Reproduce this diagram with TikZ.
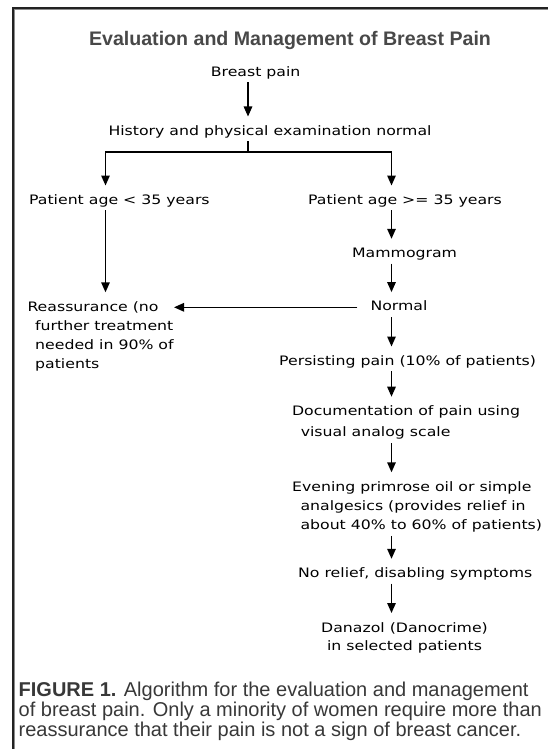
\documentclass[tikz,border=0pt]{standalone}
\usepackage{fontspec}
\setmainfont{Liberation Sans}
\newfontfamily\flowfont[FakeStretch=1.21]{DejaVu Sans}
\usepackage{xcolor}
\usepackage{tikz}
\usetikzlibrary{arrows.meta,calc}
\definecolor{framedark}{HTML}{222222}
\definecolor{framegray}{HTML}{8C8C8C}
\definecolor{titlegray}{HTML}{484848}
\definecolor{captiongray}{HTML}{383838}

\tikzset{
  flowtext/.style={font=\flowfont\fontsize{13pt}{19pt}\selectfont, inner sep=0pt, text height=9.5pt, text depth=2.5pt},
  flowblock/.style={font=\flowfont\fontsize{13pt}{19pt}\selectfont, inner sep=0pt, align=left},
  flowline/.style={line width=1.4pt, black},
  flowarrow/.style={flowline, -{Triangle[length=10pt,width=8.5pt]}, shorten <=3.5pt, shorten >=9pt}
}

\begin{document}
\begin{tikzpicture}[x=1pt,y=-1pt]
\useasboundingbox (0,0) rectangle (548,749);
\draw[framedark, line width=2pt] (13,749) -- (13,8) -- (548,8);
\draw[framegray, line width=1pt] (14.8,749) -- (14.8,9.8) -- (548,9.8);

\node[font=\bfseries\fontsize{19.6pt}{22pt}\selectfont, text=titlegray, inner sep=0pt] (title) at (290,40) {Evaluation and Management of Breast Pain};

\coordinate (split) at (248,152);
\coordinate (leftcol) at (105.5,0);
\coordinate (rightcol) at (391.5,0);
\coordinate (backtip) at (174,0);

\node[flowtext] (pain) at (255.6,72.7) {Breast pain};
\node[flowtext] (history) at (270,131.7) {History and physical examination normal};
\node[flowtext] (young) at (119.4,200.7) {Patient age < 35 years};
\node[flowtext] (old) at (405,200.7) {Patient age >= 35 years};
\node[flowtext] (mammo) at (404.6,254) {Mammogram};
\node[flowtext] (normal) at (399,307.3) {Normal};
\node[flowblock, anchor=north west] (reassure) at (27.3,301.3)
  {Reassurance (no\\\hspace*{7.7pt}further treatment\\\hspace*{7.7pt}needed in 90\% of\\\hspace*{7.7pt}patients};
\node[flowtext, anchor=west] (persist) at (279,361.7) {Persisting pain (10\% of patients)};
\node[flowblock, anchor=north west] (docu) at (291.9,405.7)
  {Documentation of pain using\\[2pt]\hspace*{8.7pt}visual analog scale};
\node[flowblock, anchor=north west] (evening) at (291.9,481.3)
  {Evening primrose oil or simple\\\hspace*{8.4pt}analgesics (provides relief in\\\hspace*{8.4pt}about 40\% to 60\% of patients)};
\node[flowtext, anchor=west] (norelief) at (298,574) {No relief, disabling symptoms};
\node[flowblock, align=center, anchor=north] (danazol) at (404.5,622)
  {Danazol (Danocrime)\\[-1pt]in selected patients};

\draw[flowarrow] (pain.south -| split) -- (history.north -| split);
\draw[flowline, shorten <=3.5pt] (history.south -| split) -- (split);
\draw[flowarrow, shorten <=0pt] (split) -| (young.north -| leftcol);
\draw[flowarrow, shorten <=0pt] (split) -| (old.north -| rightcol);
\draw[flowarrow] (young.south -| leftcol) -- (reassure.north -| leftcol);
\foreach \a/\b in {old/mammo, mammo/normal, normal/persist, persist/docu, docu/evening, evening/norelief, norelief/danazol}
  \draw[flowarrow] (\a.south -| rightcol) -- (\b.north -| rightcol);
\draw[flowarrow, shorten <=13pt, shorten >=0pt] (normal.west) -- (normal.west -| backtip);

\node[anchor=north west, align=left, inner sep=0pt, text=captiongray, font=\fontsize{20pt}{20pt}\selectfont] (caption) at (18.5,682)
  {\textbf{FIGURE 1.} Algorithm for the evaluation and management\\of breast pain. Only a minority of women require more than\\reassurance that their pain is not a sign of breast cancer.};
\end{tikzpicture}
\end{document}
